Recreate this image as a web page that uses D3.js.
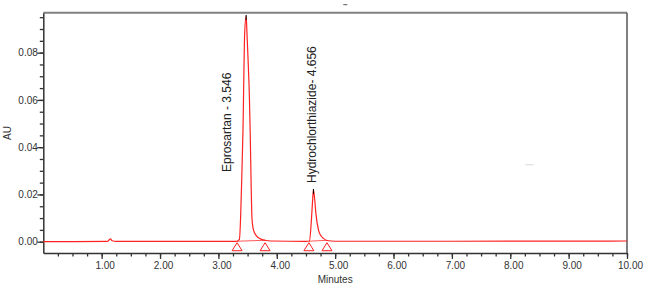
<!DOCTYPE html>
<html>
<head>
<meta charset="utf-8">
<script src="https://cdn.jsdelivr.net/npm/d3@7"></script>
<style>
  body { margin: 0; background: #fff; }
  text { font-family: Arial, "Liberation Sans", sans-serif; }
</style>
</head>
<body>
<div class="div_d3"></div>
<script>
// trace (minutes, AU)
const timeMin = [0.00, 0.50, 1.10, 1.13, 1.15, 1.18, 1.25, 2.00, 3.00, 3.30, 3.36, 3.38, 3.40, 3.42, 3.45, 3.475,
                 3.49, 3.51, 3.53, 3.545, 3.56, 3.575, 3.60, 3.65, 3.72, 3.80, 3.90, 4.50, 4.56, 4.59, 4.61, 4.628,
                 4.645, 4.67, 4.714, 4.76, 4.80, 4.86, 5.00, 7.00, 10.00];
const absorbance = [0.0000, 0.0000, 0.0001, 0.0008, 0.0012, 0.0004, 0.0001, 0.0001, 0.0001, 0.0001, 0.0010, 0.0100, 0.0270, 0.0460, 0.0880, 0.0955,
                    0.0880, 0.0760, 0.0620, 0.0460, 0.0250, 0.0100, 0.0050, 0.0025, 0.0012, 0.0006, 0.0003, 0.0001, 0.0003, 0.0080, 0.0160, 0.0219,
                    0.0190, 0.0120, 0.0050, 0.0024, 0.0014, 0.0005, 0.0002, 0.0002, 0.0003];

const peakNames = ["Eprosartan - 3.546", "Hydrochlorthiazide- 4.656"];
const peakApexTime = [3.475, 4.628];
const peakApexAU = [0.0955, 0.0219];
const peakStart = [3.32, 4.55];
const peakEnd = [3.80, 4.86];

const xMajor = [1, 2, 3, 4, 5, 6, 7, 8, 9, 10];
const yMajor = [0.00, 0.02, 0.04, 0.06, 0.08];

const margin = {top: 12.7, right: 27, bottom: 48, left: 43.3},
      width = 654 - margin.left - margin.right,
      height = 301 - margin.top - margin.bottom;

const svg = d3.select(".div_d3")
  .append("svg")
    .attr("width", 654)
    .attr("height", 301)
  .append("g")
    .attr("transform", `translate(${margin.left},${margin.top})`);

const x = d3.scaleLinear().domain([0, 10]).range([0, width]);
const y = d3.scaleLinear().domain([-0.00478, 0.0969]).range([height, 0]);

// frame: top and right in gray
svg.append("line")
  .attr("x1", 0).attr("x2", width).attr("y1", 0).attr("y2", 0)
  .attr("stroke", "#808080").attr("stroke-width", 2);
svg.append("line")
  .attr("x1", width).attr("x2", width).attr("y1", 0).attr("y2", height)
  .attr("stroke", "#555").attr("stroke-width", 1.5);

// minor ticks
const xMinor = d3.range(1, 41).map(i => i * 0.25);
const yMinor = d3.range(0, 20).map(i => i * 0.005);

svg.append("g")
  .attr("transform", `translate(0,${height})`)
  .call(d3.axisBottom(x).tickValues(xMinor).tickSize(3.5).tickFormat(""))
  .call(g => g.select(".domain").remove())
  .selectAll("line").attr("stroke", "#333").attr("stroke-width", 1.3);

svg.append("g")
  .call(d3.axisLeft(y).tickValues(yMinor).tickSize(3.5).tickFormat(""))
  .call(g => g.select(".domain").remove())
  .selectAll("line").attr("stroke", "#333").attr("stroke-width", 1.3);

// major ticks + labels
const xAxis = svg.append("g")
  .attr("transform", `translate(0,${height})`)
  .call(d3.axisBottom(x).tickValues(xMajor).tickSize(6).tickSizeOuter(0).tickFormat(d3.format(".2f")));
xAxis.select(".domain").attr("stroke", "#333").attr("stroke-width", 1.5);
xAxis.selectAll(".tick line").attr("stroke", "#333").attr("stroke-width", 1.3);
xAxis.selectAll("text")
  .attr("font-size", "10px").attr("fill", "#333")
  .attr("dx", 3).attr("y", 9);

const yAxis = svg.append("g")
  .call(d3.axisLeft(y).tickValues(yMajor).tickSize(6).tickSizeOuter(0).tickFormat(d3.format(".2f")));
yAxis.select(".domain").attr("stroke", "#333").attr("stroke-width", 1.5);
yAxis.selectAll(".tick line").attr("stroke", "#333").attr("stroke-width", 1.3);
yAxis.selectAll("text")
  .attr("font-size", "10px").attr("fill", "#333")
  .attr("x", -5.5);

// axis titles
svg.append("text")
  .attr("x", width / 2 - 0).attr("y", height + 30)
  .attr("text-anchor", "middle")
  .attr("font-size", "10px").attr("fill", "#333")
  .text("Minutes");

svg.append("text")
  .attr("transform", `translate(${-margin.left + 11},${y(0.046)}) rotate(-90)`)
  .attr("text-anchor", "middle")
  .attr("font-size", "10px").attr("fill", "#333")
  .text("AU");

// integration baselines
for (let i = 0; i < peakStart.length; i++) {
  svg.append("line")
    .attr("x1", x(peakStart[i])).attr("x2", x(peakEnd[i]))
    .attr("y1", y(0.0002)).attr("y2", y(0.0006))
    .attr("stroke", "#ff3030").attr("stroke-width", 0.8);
}

// trace
const pts = timeMin.map((t, i) => [t, absorbance[i]]);
const line = d3.line()
  .x(d => x(d[0]))
  .y(d => y(d[1]))
  .curve(d3.curveMonotoneX);

svg.append("path")
  .datum(pts)
  .attr("fill", "none")
  .attr("stroke", "#ff2222")
  .attr("stroke-width", 1.2)
  .attr("d", line);

// apex marks
svg.selectAll(".apex")
  .data(peakApexTime)
  .enter()
  .append("line")
    .attr("class", "apex")
    .attr("x1", d => x(d)).attr("x2", d => x(d))
    .attr("y1", (d, i) => y(peakApexAU[i]) - 1)
    .attr("y2", (d, i) => y(peakApexAU[i]) + 4)
    .attr("stroke", "#000").attr("stroke-width", 1);

// start / end triangles
const triTimes = peakStart.concat(peakEnd);
svg.selectAll(".tri")
  .data(triTimes)
  .enter()
  .append("path")
    .attr("class", "tri")
    .attr("d", d => {
      const cx = x(d), ty = y(0) + 1;
      return `M${cx},${ty} L${cx - 5},${ty + 8} L${cx + 5},${ty + 8} Z`;
    })
    .attr("fill", "none")
    .attr("stroke", "#ff2020")
    .attr("stroke-width", 1);

// peak labels
const labelX = [187.3, 272.2];
const labelY = [159.3, 170.3];
svg.selectAll(".plabel")
  .data(peakNames)
  .enter()
  .append("text")
    .attr("class", "plabel")
    .attr("transform", (d, i) => `translate(${labelX[i]},${labelY[i]}) rotate(-90)`)
    .attr("font-size", "12px")
    .attr("fill", "#222")
    .text(d => d);

// small stray marks from the original printout
svg.append("line")
  .attr("x1", 300).attr("x2", 304).attr("y1", -8).attr("y2", -8)
  .attr("stroke", "#555").attr("stroke-width", 1);
svg.append("line")
  .attr("x1", 482).attr("x2", 490).attr("y1", 152).attr("y2", 152)
  .attr("stroke", "#e4e4e4").attr("stroke-width", 1.5);
</script>
</body>
</html>
